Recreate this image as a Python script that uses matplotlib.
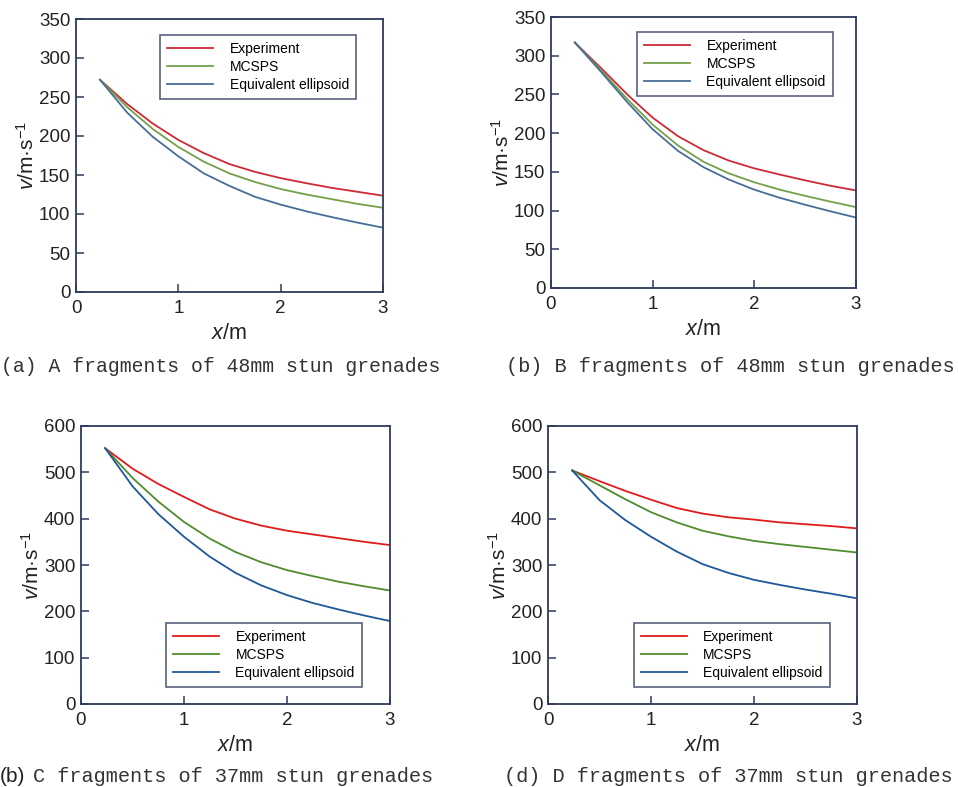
import matplotlib as mpl
mpl.use('Agg')
import matplotlib.pyplot as plt

plt.rcParams['font.family'] = ['Liberation Sans', 'DejaVu Sans']
plt.rcParams['mathtext.fontset'] = 'custom'
plt.rcParams['mathtext.rm'] = 'Liberation Sans'
plt.rcParams['mathtext.it'] = 'Liberation Sans:italic'

# distance x (m) where the velocity was read
x_vals = [0.235, 0.5, 0.75, 1.0, 1.25, 1.5, 1.75, 2.0, 2.25, 2.5, 2.75, 3.0]

# (a) A fragments, 48mm
a_exp = [272, 241, 216, 195, 178, 164, 154, 146, 139.5, 133.5, 128.5, 123.5]
a_mcsps = [272, 237, 209, 186, 167, 152, 141, 132, 125, 119, 113, 108]
a_ell = [272, 230, 199, 174, 152, 136, 122, 112, 103.5, 96, 89, 82.5]

# (b) B fragments, 48mm
b_exp = [317, 283, 250, 220, 196, 178, 164.5, 154.5, 146.5, 139, 132, 126]
b_mcsps = [317, 280, 244, 211, 184, 163, 148, 136.5, 127, 119, 111.5, 104.5]
b_ell = [317, 278, 240, 205, 177, 156, 140, 127, 116.5, 107.5, 99, 91]

# (c) C fragments, 37mm
c_exp = [552, 508, 475, 447, 420, 400, 385, 374, 366, 358, 350, 343]
c_mcsps = [552, 488, 437, 393, 357, 328, 306, 289, 276, 264, 254, 245]
c_ell = [552, 470, 410, 361, 318, 283, 256, 235, 218, 204, 191, 179]

# (d) D fragments, 37mm
d_exp = [504, 481, 460, 441, 423, 411, 403, 398, 392, 388, 384, 379]
d_mcsps = [504, 472, 442, 414, 392, 374, 362, 352, 345, 339, 333, 327]
d_ell = [504, 440, 397, 361, 329, 302, 283, 268, 257, 247, 238, 228]

labels = ['Experiment', 'MCSPS', 'Equivalent ellipsoid']
top_colors = ['#cc2a36', '#74a04a', '#466e96']
bot_colors = ['#e01b1b', '#4f8c2b', '#1f5898']
frame = '#2e3a5c'

W, H = 958, 787
fig = plt.figure(figsize=(W / 100, H / 100), dpi=100)


def px_axes(l, t, r, b):
    return fig.add_axes([l / W, 1 - b / H, (r - l) / W, (b - t) / H])


def panel(ax, series, colors, ymax, ystep, leg_xy):
    for ys, c, lab in zip(series, colors, labels):
        ax.plot(x_vals, ys, color=c, lw=1.3, label=lab)
    ax.set_xlim(0, 3)
    ax.set_ylim(0, ymax)
    ax.set_xticks([0, 1, 2, 3])
    ax.set_yticks(range(0, ymax + 1, ystep))
    ax.tick_params(direction='in', length=6, width=1.1, color=frame,
                   labelsize=13.5, labelcolor='#222222', pad=4)
    ax.tick_params(axis='x', pad=6)
    for s in ax.spines.values():
        s.set_color(frame)
        s.set_linewidth(1.3)
    ax.set_xlabel('$\\mathit{x}$/m', fontsize=15.5, color='#222222', labelpad=4)
    ax.set_ylabel('$\\mathit{v}$/m·s$^{-1}$', fontsize=15, color='#222222', labelpad=1)
    leg = ax.legend(loc='upper left', bbox_to_anchor=leg_xy, fontsize=10,
                    frameon=True, fancybox=False, edgecolor=frame,
                    handlelength=3.3, handletextpad=1.2, labelspacing=0.28,
                    borderpad=0.5, borderaxespad=0)
    leg.get_frame().set_linewidth(1.2)


ax_a = px_axes(76, 19, 383, 292)
panel(ax_a, [a_exp, a_mcsps, a_ell], top_colors, 350, 50, (0.274, 0.941))

ax_b = px_axes(551, 17, 856, 288)
panel(ax_b, [b_exp, b_mcsps, b_ell], top_colors, 350, 50, (0.282, 0.945))

ax_c = px_axes(81, 426, 390, 704)
panel(ax_c, [c_exp, c_mcsps, c_ell], bot_colors, 600, 100, (0.275, 0.291))

ax_d = px_axes(548, 426, 857, 704)
panel(ax_d, [d_exp, d_mcsps, d_ell], bot_colors, 600, 100, (0.278, 0.291))

mono = dict(family='Liberation Mono', color='#333333', va='center', ha='left')
fig.text(1 / W, 1 - 367 / H, '(a) A fragments of 48mm stun grenades', fontsize=14.2, **mono)
fig.text(506 / W, 1 - 367 / H, '(b) B fragments of 48mm stun grenades', fontsize=14.6, **mono)
fig.text(0, 1 - 777 / H, '(b)', family='Liberation Sans', fontsize=15,
         color='#222222', va='center', ha='left')
fig.text(33 / W, 1 - 777 / H, 'C fragments of 37mm stun grenades', fontsize=14.6, **mono)
fig.text(504 / W, 1 - 777 / H, '(d) D fragments of 37mm stun grenades', fontsize=14.6, **mono)

fig.savefig('out.png', dpi=100)
